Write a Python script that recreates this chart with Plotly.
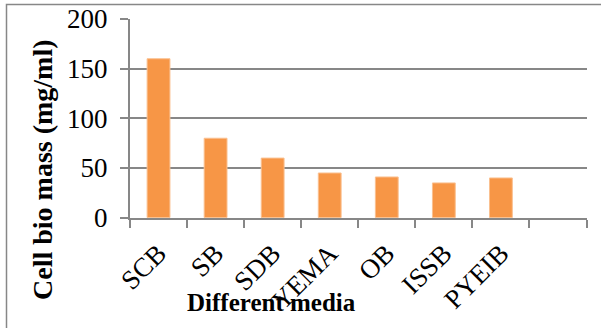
import plotly.graph_objects as go

# Cell biomass obtained on each culture medium
media = ["SCB", "SB", "SDB", "YEMA", "OB", "ISSB", "PYEIB"]
biomass = [160, 80, 60, 45, 41, 35, 40]

# one spare, empty slot at the end of the category axis
categories = media + [" "]
values = biomass + [None]

W, H = 601, 328
# plot area in pixels
px_left, px_right = 130, 586.5
px_top, px_bottom = 19, 217.7

serif = "Liberation Serif"
grey = "#878787"

fig = go.Figure(
    go.Bar(
        x=categories,
        y=values,
        marker=dict(color="#F79646", line=dict(color="#FAC090", width=1)),
        width=0.4,
    )
)

fig.update_layout(
    width=W,
    height=H,
    margin=dict(l=0, r=0, t=0, b=0),
    paper_bgcolor="white",
    plot_bgcolor="white",
    showlegend=False,
    font=dict(family=serif, color="black"),
    xaxis=dict(
        domain=[px_left / W, px_right / W],
        type="category",
        range=[-0.5, len(categories) - 0.5],
        tickson="boundaries",
        ticks="outside",
        ticklen=8,
        tickwidth=1.5,
        tickcolor=grey,
        showline=True,
        linecolor=grey,
        linewidth=2,
        showgrid=False,
        tickangle=-45,
        tickfont=dict(family=serif, size=27, color="black"),
        ticklabelstandoff=7,
        automargin=False,
    ),
    yaxis=dict(
        domain=[1 - px_bottom / H, 1 - px_top / H],
        range=[0, 200],
        tick0=0,
        dtick=50,
        ticks="outside",
        ticklen=8,
        tickwidth=1.5,
        tickcolor=grey,
        showline=True,
        linecolor=grey,
        linewidth=2,
        showgrid=True,
        gridcolor=grey,
        gridwidth=2,
        zeroline=False,
        tickfont=dict(family=serif, size=27, color="black"),
        ticklabelstandoff=7,
        automargin=False,
    ),
)

# axis titles
fig.add_annotation(
    text="<b>Different media</b>",
    xref="paper", yref="paper",
    x=271 / W, y=1 - 302 / H,
    xanchor="center", yanchor="middle",
    showarrow=False,
    font=dict(family=serif, size=25, color="black"),
)
fig.add_annotation(
    text="<b>Cell bio mass (mg/ml)</b>",
    xref="paper", yref="paper",
    x=42 / W, y=1 - 170 / H,
    xanchor="center", yanchor="middle",
    textangle=-90,
    showarrow=False,
    font=dict(family=serif, size=28, color="black"),
)

# caption line running above the frame
fig.add_annotation(
    text="(Figure 1,2,3)",
    xref="paper", yref="paper",
    x=372 / W, y=1 + 2 / H,
    xanchor="center", yanchor="bottom",
    showarrow=False,
    font=dict(family=serif, size=22, color="black"),
)

# frame around the chart
fig.add_shape(
    type="rect",
    xref="paper", yref="paper",
    x0=6.5 / W, x1=1.05,
    y0=-0.05, y1=1 - 4.5 / H,
    line=dict(color=grey, width=1.5),
    fillcolor="rgba(0,0,0,0)",
    layer="below",
)

fig.write_html("out.html")
